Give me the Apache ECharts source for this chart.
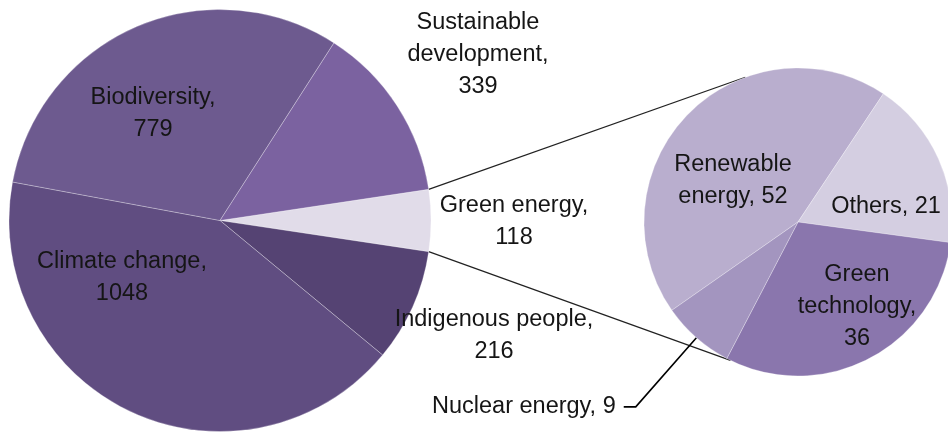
<!DOCTYPE html>
<html><head><meta charset="utf-8">
<script src="https://cdn.jsdelivr.net/npm/echarts@6/dist/echarts.min.js"></script>
<style>html,body{margin:0;padding:0;background:#fff}#c{width:948px;height:432px}</style>
</head><body><div id="c"></div>
<script>
// ---- data ----
const mainCategories = ['Green energy', 'Indigenous people', 'Climate change', 'Biodiversity', 'Sustainable development'];
const mainValues = [118, 216, 1048, 779, 339];
const subCategories = ['Renewable energy', 'Others', 'Green technology', 'Nuclear energy'];
const subValues = [52, 21, 36, 9];

// ---- label wrapping (display only) ----
const mainLabelNames = ['Green energy', 'Indigenous people', 'Climate change', 'Biodiversity', 'Sustainable\ndevelopment'];
const mainLabelSep = ['\n', '\n', '\n', '\n', '\n'];
const subLabelNames = ['Renewable\nenergy', 'Others', 'Green\ntechnology', 'Nuclear energy'];
const subLabelSep = [' ', ' ', '\n', ' '];

// ---- styles / layout ----
const mainColors = ['#e1dce9', '#554373', '#604d81', '#6d5a8f', '#7b62a0'];
const subColors = ['#b9aece', '#d4cee1', '#8a76ad', '#a395bf'];
const mainCenter = [220, 220.5], mainRadius = 211;
const subCenter = [798, 222], subRadius = 154;
const subStartAngle = 215;
// label centre offsets from pie centre (px)
const mainLabelOffset = [[294, 1.5], [274, 115.5], [-98, 57.5], [-67, -106.5], [258, -165.5]];
const subLabelOffset = [[-65, -41], [88, -15], [59, 85], null];
const connectAngles = [110, -116];

const total = mainValues.reduce((a, b) => a + b, 0);
const mainStart = 360 * mainValues[0] / total / 2;

const font = {fontFamily: 'Liberation Sans', fontSize: 23.5, lineHeight: 32, color: '#151515'};

function pt(c, r, deg) {
  const a = deg * Math.PI / 180;
  return [c[0] + r * Math.cos(a), c[1] - r * Math.sin(a)];
}

const chart = echarts.init(document.getElementById('c'), null, {renderer: 'canvas'});
const mainData = mainCategories.map((n, i) => ({name: n, value: mainValues[i], itemStyle: {color: mainColors[i]}}));
const subData = subCategories.map((n, i) => {
  const d = {name: n, value: subValues[i], itemStyle: {color: subColors[i]}};
  if (!subLabelOffset[i]) {
    d.label = {position: 'outside', distanceToLabelLine: 8};
    d.labelLine = {show: true, length: 92, length2: 12, smooth: false, lineStyle: {color: '#000', width: 1.6}};
  }
  return d;
});

const p1a = pt(mainCenter, mainRadius, mainStart), p1b = pt(mainCenter, mainRadius, -mainStart);
const p2a = pt(subCenter, subRadius, connectAngles[0]), p2b = pt(subCenter, subRadius, connectAngles[1]);

chart.setOption({
  animation: false,
  graphic: [
    {type: 'line', shape: {x1: p1a[0], y1: p1a[1], x2: p2a[0], y2: p2a[1]}, style: {stroke: '#222', lineWidth: 1.2}, z: 1},
    {type: 'line', shape: {x1: p1b[0], y1: p1b[1], x2: p2b[0], y2: p2b[1]}, style: {stroke: '#222', lineWidth: 1.2}, z: 1}
  ],
  series: [
    {
      type: 'pie', center: mainCenter, radius: mainRadius, startAngle: mainStart, clockwise: true,
      avoidLabelOverlap: false, silent: true,
      itemStyle: {borderColor: 'rgba(255,255,255,0.35)', borderWidth: 0.8},
      label: Object.assign({show: true, position: 'inside',
        formatter: p => mainLabelNames[p.dataIndex] + ',' + mainLabelSep[p.dataIndex] + p.value}, font),
      labelLine: {show: false},
      labelLayout: p => {
        const o = mainLabelOffset[p.dataIndex];
        return {x: mainCenter[0] + o[0], y: mainCenter[1] + o[1], align: 'center', verticalAlign: 'middle'};
      },
      data: mainData
    },
    {
      type: 'pie', center: subCenter, radius: subRadius, startAngle: subStartAngle, clockwise: true,
      avoidLabelOverlap: false, silent: true,
      itemStyle: {borderColor: 'rgba(255,255,255,0.35)', borderWidth: 0.8},
      label: Object.assign({show: true, position: 'inside',
        formatter: p => subLabelNames[p.dataIndex] + ',' + subLabelSep[p.dataIndex] + p.value}, font),
      labelLine: {show: false},
      labelLayout: p => {
        const o = subLabelOffset[p.dataIndex];
        if (!o) return {};
        return {x: subCenter[0] + o[0], y: subCenter[1] + o[1], align: 'center', verticalAlign: 'middle'};
      },
      data: subData
    }
  ]
});
</script>
</body></html>
